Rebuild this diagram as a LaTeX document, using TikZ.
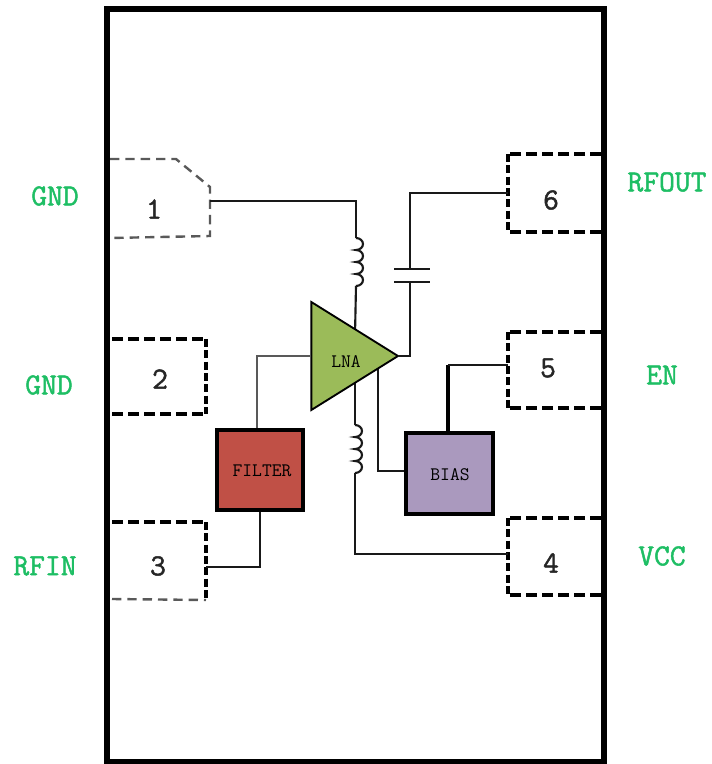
\documentclass[tikz,border=0pt]{standalone}
\usepackage{fontspec}
\newfontfamily\pinfont[FakeBold=1.5]{Latin Modern Mono}
\usetikzlibrary{shapes.geometric}
\definecolor{labelgreen}{RGB}{30,190,100}
\definecolor{lnagreen}{RGB}{155,187,89}
\definecolor{filterred}{RGB}{192,80,70}
\definecolor{biaspurple}{RGB}{170,153,190}
\tikzstyle{chip border}=[line width=5pt]
\tikzstyle{pad thick}=[line width=2.3pt,dash pattern=on 8pt off 4pt]
\tikzstyle{pad side}=[line width=3.6pt,dash pattern=on 6pt off 2.5pt]
\tikzstyle{pad thin}=[line width=1.8pt,dash pattern=on 7pt off 4.5pt,color=black!65]
\tikzstyle{pin name}=[text=labelgreen,font=\pinfont\fontsize{23}{23}\selectfont,inner sep=0pt]
\tikzstyle{pin number}=[text=black!85,font=\pinfont\fontsize{23}{23}\selectfont,inner sep=0pt]
\tikzstyle{block}=[draw,line width=3pt,inner sep=0pt]
\tikzstyle{block text}=[inner sep=0pt,font=\ttfamily\fontsize{14.3}{14.3}\selectfont]
\tikzstyle{wire}=[line width=1.6pt,color=black!90]
\tikzstyle{bigwire}=[line width=3pt]
\newcommand{\rightpad}[3]{
    \draw[pad thick] (601,#2) -- (#1,#2);
    \draw[pad thick] (601,#3) -- (#1,#3);
    \draw[pad side] (#1,#2) -- (#1,#3);
}
\newcommand{\coil}[2]{
    \draw[wire] (#1) arc(-90:90:7 and 6) arc(-90:90:7 and 6)
        arc(-90:90:7 and 6) arc(-90:90:7 and 6) coordinate (#2);
}
\begin{document}
\begin{tikzpicture}[x=0.75pt,y=-0.75pt]
    \useasboundingbox (0,0) rectangle (711,764);
    \draw[chip border] (107,9) rectangle (604,762);
    %
    \draw[pad thin] (110,159) -- (176,159) -- (210,187) -- (210,236) -- (110,238);
    \draw[pad thick] (112,339) -- (206,339);
    \draw[pad thick] (112,414) -- (206,414);
    \draw[pad side] (206,339) -- (206,414);
    \draw[pad thick] (112,522) -- (206,522);
    \draw[pad side] (206,522) -- (206,600);
    \draw[pad thin] (112,599) -- (206,600);
    \rightpad{508}{518}{595}
    \rightpad{508}{332}{408}
    \rightpad{508}{154}{232}
    \node[pin number] (1) at (154,209) {1};
    \node[pin number] (2) at (160,379) {2};
    \node[pin number] (3) at (158,566) {3};
    \node[pin number] (4) at (551,563) {4};
    \node[pin number] (5) at (548,368) {5};
    \node[pin number] (6) at (551,200) {6};
    %
    \coordinate (pad1 pin) at (210,201);
    \coordinate (pad3 pin) at (206,567);
    \coordinate (pad4 pin) at (508,554);
    \coordinate (pad5 pin) at (508,365);
    \coordinate (pad6 pin) at (508,193);
    \coordinate (coil top in) at (356,238);
    \coordinate (coil bot in) at (355,425);
    \coordinate (cap top) at (410,269);
    \coordinate (cap bot) at (410,282);
    \coordinate (lna top) at (355,335);
    \coordinate (lna bot) at (355,380);
    \coordinate (lna bias) at (378,365);
    %
    \node[block,fill=filterred,minimum width=64.5pt,minimum height=60pt] (FILTER) at (260,470) {};
    \node[block,fill=biaspurple,minimum width=65.25pt,minimum height=60.75pt] (BIAS) at (449.5,473.5) {};
    \node[block text] (filter text) at (262,471) {FILTER};
    \node[block text] (bias text) at (450,475) {BIAS};
    %
    \draw[wire] (pad1 pin) -| (coil top in);
    \coil{coil top in}{coil top out}
    \draw[wire] (coil top out) -- (lna top);
    \draw[wire] (lna bot) -- (coil bot in);
    \coil{coil bot in}{coil bot out}
    \draw[wire] (coil bot out) |- (pad4 pin);
    \draw[wire] (lna bias) |- (BIAS.west |- 0,471);
    \draw[bigwire] (BIAS.north -| 448,432) -- (448,365);
    \draw[wire] (448,365) -- (pad5 pin);
    \draw[wire] (FILTER.south -| 260,510) |- (pad3 pin);
    %
    \node[isosceles triangle,isosceles triangle stretches,draw,fill=lnagreen,line width=1.4pt,
        minimum width=81pt,minimum height=65pt,inner sep=0pt,outer sep=0pt,anchor=apex] (LNA) at (398,356) {};
    \node[block text] (lna text) at (346,362) {LNA};
    %
    \draw[wire,color=black!65] (LNA.apex -| LNA.left corner) -| (FILTER.north -| 257,428);
    \draw[wire] (LNA.apex) -| (cap bot);
    \draw[wire] (cap top) |- (pad6 pin);
    \draw[wire] (394,269) -- (430,269);
    \draw[wire] (394,282) -- (430,282);
    %
    \node[pin name] (GND1) at (55,196) {GND};
    \node[pin name] (GND2) at (49,385) {GND};
    \node[pin name] (RFIN) at (45,566) {RFIN};
    \node[pin name] (RFOUT) at (667,182) {RFOUT};
    \node[pin name] (EN) at (662,375) {EN};
    \node[pin name] (VCC) at (662,556) {VCC};
\end{tikzpicture}
\end{document}
